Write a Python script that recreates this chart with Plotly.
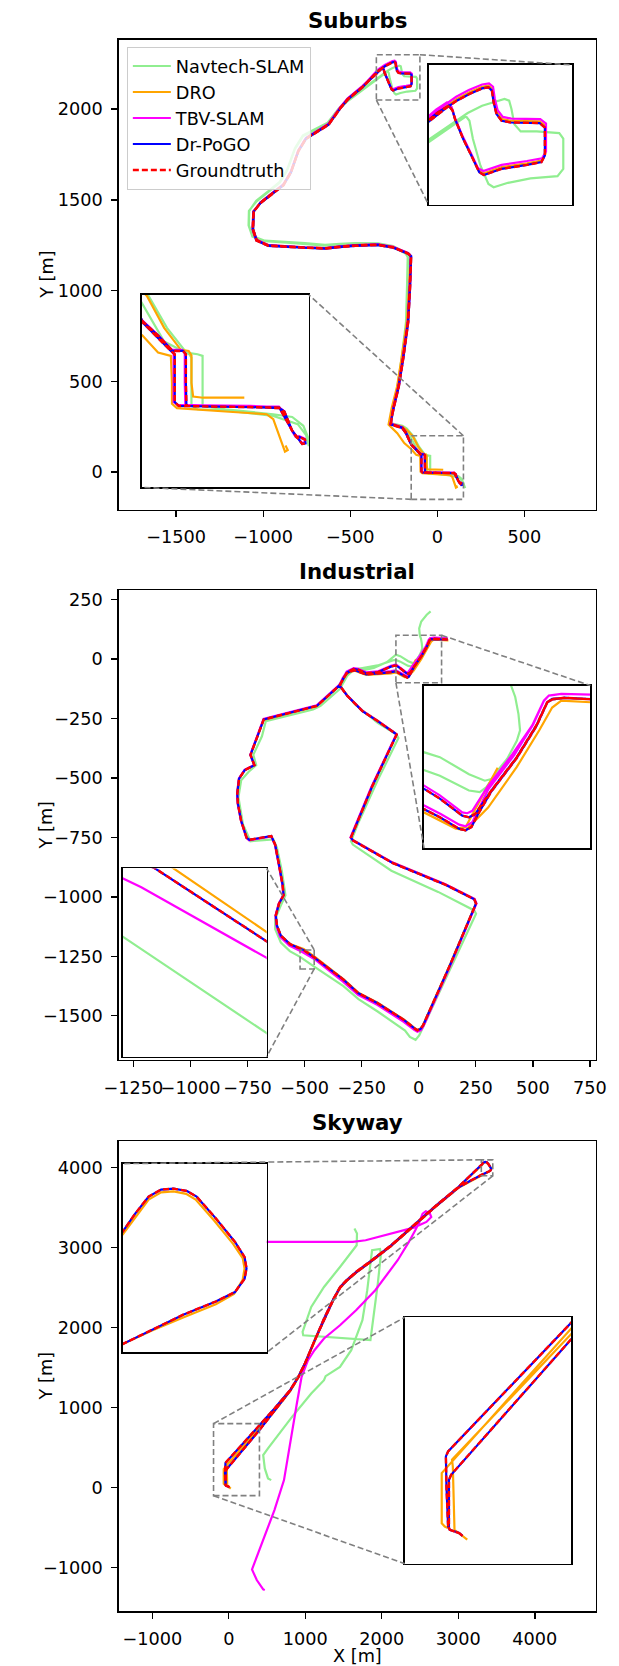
import plotly.graph_objects as go

W, H = 619, 1666

# ------------------------------------------------------------------ data
# Suburbs (x, y in metres)
SUB_GT = [(132,-58),(128,-59),(120,-47),(111,-26),(106,-12),(97,-6),(45,-4),(-41,-3),(-70,-2),(-71,40),(-71,92),(-76,98),(-95,98),(-120,125),(-149,152),(-180,219),(-200,245),(-266,265),(-262,300),(-250,354),(-221,472),(-195,629),(-167,826),(-156,1022),(-150,1190),(-167,1205),(-254,1239),(-341,1253),(-471,1249),(-560,1242),(-645,1233),(-760,1237),(-863,1243),(-971,1249),(-1037,1278),(-1058,1337),(-1054,1435),(-1015,1485),(-950,1534),(-884,1583),(-841,1652),(-798,1770),(-754,1839),(-689,1878),(-624,1917),(-558,2006),(-515,2055),(-428,2124),(-348,2200),(-318,2224),
          (-301,2236),(-279,2248),(-257,2258),(-246,2260),(-240,2254),(-237,2233),(-232,2212),(-223,2200),(-207,2197),(-157,2196),(-148,2188),(-148,2138),(-154,2126),(-179,2121),(-223,2114),(-254,2103),(-262,2108),(-273,2132),(-290,2168),(-304,2203),(-308,2218),(-315,2227),
          (-334,2215),(-348,2203),(-430,2120),(-515,2052),(-558,2003),(-624,1914),(-689,1875),(-754,1836),(-798,1768),(-841,1650),(-884,1580),(-950,1531),(-1015,1482),(-1056,1435),(-1060,1337),(-1039,1276),(-971,1247),(-863,1241),(-760,1235),(-645,1231),(-560,1240),(-471,1247),(-341,1251),(-254,1237),(-167,1203),(-152,1188),(-158,1022),(-169,826),(-197,629),(-223,472),(-252,354),(-264,300),(-268,263),(-202,243),(-182,217),(-149,150),(-120,120),(-98,98),(-91,92),(-91,5),(-84,-2),(0,-4),(97,-5),(120,-47),(131,-63),(138,-71),(144,-70),(143,-63),(132,-58)]
SUB_POGO = SUB_GT  # Dr-PoGO coincides with groundtruth at this scale
SUB_DRO = [(34,13),(-20,13),(-40,13),(-58,15),(-61,40),(-61,90),(-66,98),(-80,100),(-110,140),(-141,198),(-175,232),(-200,250),(-272,268),(-268,300),(-258,354),(-229,472),(-203,629),(-172,826),(-160,1022),(-153,1190),(-168,1207),(-254,1241),(-341,1255),(-471,1251),(-560,1244),(-645,1235),(-760,1239),(-863,1245),(-971,1251),(-1037,1280),(-1058,1339),(-1054,1437),(-1015,1487),(-950,1536),(-884,1585),(-841,1654),(-798,1772),(-754,1841),(-689,1880),(-624,1919),(-558,2008),(-515,2057),(-428,2126),(-348,2202),(-318,2227),
           (-301,2239),(-279,2251),(-257,2261),(-246,2263),(-239,2257),(-236,2236),(-231,2215),(-222,2203),(-207,2200),(-157,2199),(-147,2191),(-147,2141),(-154,2129),(-179,2124),(-223,2117),(-254,2106),(-263,2111),(-274,2135),(-291,2171),(-305,2206),(-309,2221),(-316,2230),
           (-335,2218),(-349,2206),(-431,2122),(-516,2054),(-559,2005),(-625,1916),(-690,1877),(-755,1838),(-799,1770),(-842,1652),(-885,1582),(-951,1533),(-1016,1484),(-1057,1437),(-1061,1339),(-1040,1278),(-971,1249),(-863,1243),(-760,1237),(-645,1233),(-560,1242),(-471,1249),(-341,1253),(-254,1239),(-168,1205),(-154,1190),(-162,1022),(-175,826),(-205,629),(-231,472),(-262,354),(-272,300),(-280,262),(-230,215),(-190,160),(-149,126),(-121,95),(-98,89),(-96,40),(-96,2),(-87,-6),(0,-12),(74,-17),(86,-26),(97,-59),(103,-77),(107,-85),(112,-82),(108,-74)]
SUB_TBV = [(130,-57),(126,-58),(119,-46),(110,-25),(105,-11),(96,-4),(45,-2),(-41,-1),(-72,0),(-73,40),(-73,94),(-78,100),(-96,100),(-121,127),(-150,154),(-181,221),(-201,247),(-267,267),(-263,300),(-251,354),(-222,472),(-196,629),(-168,826),(-157,1022),(-151,1191),(-168,1207),(-254,1241),(-341,1255),(-471,1251),(-560,1244),(-645,1235),(-760,1239),(-863,1245),(-971,1251),(-1038,1280),(-1059,1337),(-1055,1435),(-1016,1486),(-951,1536),(-885,1585),(-842,1654),(-799,1772),(-755,1841),(-690,1880),(-625,1920),(-559,2009),(-516,2058),(-429,2128),(-350,2205),(-320,2230),
           (-302,2243),(-280,2255),(-257,2265),(-245,2267),(-238,2261),(-235,2240),(-230,2219),(-221,2207),(-206,2204),(-156,2203),(-146,2195),(-146,2145),(-153,2133),(-179,2128),(-223,2121),(-255,2110),(-264,2115),(-275,2139),(-292,2175),(-306,2210),(-310,2225),(-318,2233),
           (-337,2220),(-350,2208),(-431,2124),(-516,2056),(-559,2007),(-625,1917),(-690,1878),(-755,1839),(-799,1770),(-842,1652),(-885,1582),(-951,1533),(-1016,1484),(-1057,1435),(-1061,1337),(-1040,1278),(-971,1249),(-863,1243),(-760,1237),(-645,1233),(-560,1242),(-471,1249),(-341,1253),(-254,1239),(-168,1205),(-153,1190),(-159,1022),(-170,826),(-198,629),(-224,472),(-253,354),(-265,300),(-269,265),(-203,245),(-183,219),(-150,152),(-121,122),(-100,100),(-93,94),(-93,5),(-85,0),(0,-2),(96,-3),(119,-45),(130,-61),(137,-69),(143,-68),(142,-61),(131,-56)]
SUB_NAV = [(160,-88),(150,-62),(140,-38),(120,-22),(86,-17),(0,-8),(-41,-2),(-41,89),(-50,92),(-70,95),(-105,140),(-138,198),(-175,240),(-200,255),(-272,270),(-266,300),(-255,354),(-228,472),(-205,629),(-180,826),(-174,1022),(-170,1185),(-185,1210),(-254,1245),(-341,1260),(-471,1262),(-560,1258),(-645,1252),(-760,1262),(-863,1268),(-990,1275),(-1060,1300),(-1082,1360),(-1080,1440),(-1040,1495),(-970,1548),(-905,1600),(-862,1668),(-818,1785),(-772,1855),(-700,1890),(-630,1925),(-565,2005),(-520,2045),(-430,2110),(-348,2168),(-323,2185),(-290,2209),
           (-282,2214),(-257,2227),(-218,2239),(-210,2236),(-206,2221),(-201,2194),(-190,2181),(-162,2181),(-123,2178),(-116,2168),(-116,2114),(-126,2101),(-173,2097),(-212,2089),(-237,2081),(-246,2087),(-260,2120),(-273,2168),(-279,2200),(-285,2208),
           (-323,2182),(-348,2165),(-430,2105),(-520,2040),(-565,2000),(-630,1920),(-700,1885),(-772,1850),(-818,1780),(-862,1663),(-905,1595),(-970,1543),(-1040,1490),(-1082,1440),(-1084,1360),(-1062,1298),(-990,1272),(-863,1265),(-760,1258),(-645,1248),(-560,1254),(-471,1258),(-341,1256),(-254,1241),(-183,1205),(-168,1183),(-172,1022),(-178,826),(-203,629),(-226,472),(-253,354),(-264,300),(-270,266),(-205,248),(-175,225),(-150,185),(-110,115),(-65,92),(-61,86),(-61,-2),(-50,-8),(0,-10),(86,-20),(130,-35),(145,-55),(150,-75)]

# Industrial
IND_GT = [(127,82),(100,83.6),(69,84.8),(54,83.6),(48,79.5),(35,51),(11.5,12),(-19,-29),(-38.5,-58),(-46,-62),(-54,-60),(-81,-39),(-100,-27),(-122,-32),(-150,-45),(-180,-56),(-230,-60),(-265,-45),(-285,-42),(-300,-48),(-315,-57),(-346,-110),(-446,-197),(-679,-254),(-695,-297),(-737,-403),(-720,-446),(-762,-467),(-787,-503),(-795,-567),(-792,-609),(-778,-680),(-754,-751),(-742,-760),(-646,-744),(-629,-780),(-612,-865),(-596,-950),(-592,-993),(-612,-1028),(-626,-1078),(-621,-1121),(-604,-1163),(-563,-1199),(-506,-1223),(-458,-1254),(-330,-1348),(-264,-1405),(-180,-1447),(-64,-1518),(-20,-1552),(-6,-1561),(8,-1555),(19,-1540),(135,-1291),(251,-1028),(243,-1010),(119,-950),(-114,-858),(-288,-763),(-297,-751),(-205,-538),(-97,-318),(-106,-311),(-180,-261),(-247,-219),(-313,-155),(-346,-112),(-330,-80),(-315,-60),(-300,-52),(-280,-47),(-230,-65),(-180,-62),(-150,-58),(-122,-55),(-100,-52),(-81,-62),(-58,-76),(-50,-78),(-43,-74),(-35,-58),(-19,-30),(11.5,11),(35,50),(48,79),(54,83),(69,85),(100,84),(127,82)]
IND_POGO = IND_GT
IND_DRO = [(-11.5,-1),(-33,-41),(-50,-74),(-62,-76),(-81,-66),(-100,-56),(-122,-60),(-150,-62),(-180,-64),(-230,-67),(-280,-49),(-300,-54),(-315,-62),(-348,-113),(-447,-199),(-680,-256),(-696,-298),(-738,-404),(-721,-447),(-763,-468),(-788,-504),(-796,-567),(-793,-609),(-779,-680),(-755,-752),(-743,-761),(-646,-746),(-630,-781),(-613,-865),(-597,-950),(-593,-993),(-613,-1028),(-627,-1078),(-622,-1121),(-605,-1163),(-564,-1198),(-504,-1219),(-458,-1250),(-330,-1346),(-264,-1403),(-180,-1445),(-64,-1516),(-20,-1550),(-6,-1559),(8,-1553),(19,-1538),(135,-1289),(251,-1026),(243,-1008),(119,-948),(-114,-856),(-288,-761),(-297,-749),(-205,-536),(-97,-316),(-106,-309),(-180,-259),(-247,-217),(-313,-153),(-346,-110),(-330,-80),(-315,-58),(-300,-50),(-280,-45),(-230,-63),(-180,-60),(-150,-57),(-122,-56),(-100,-56),(-81,-66),(-61,-76),(-50,-78),(-35,-62),(-23,-50),(11.5,0),(38.5,45),(54,73),(65,81.6),(100,79.5),(130,78)]
IND_TBV = [(127,88),(100,88.9),(65,89.8),(50,87.7),(44,81.6),(30,51),(5,14),(-24,-25),(-42,-54),(-48,-57),(-54,-56),(-81,-35),(-100,-23),(-122,-28),(-150,-41),(-180,-52),(-230,-56),(-265,-41),(-285,-38),(-300,-44),(-316,-53),(-348,-108),(-447,-195),(-680,-252),(-696,-296),(-738,-402),(-721,-445),(-763,-466),(-788,-502),(-796,-567),(-793,-609),(-779,-680),(-755,-752),(-743,-762),(-646,-746),(-630,-781),(-613,-866),(-597,-951),(-594,-994),(-614,-1030),(-628,-1080),(-623,-1124),(-607,-1168),(-567,-1205),(-512,-1231),(-458,-1261),(-333,-1355),(-266,-1412),(-182,-1454),(-66,-1525),(-20,-1559),(-6,-1567),(10,-1560),(21,-1543),(137,-1292),(253,-1028),(245,-1009),(119,-948),(-114,-856),(-290,-761),(-299,-750),(-207,-537),(-98,-316),(-107,-309),(-181,-259),(-248,-217),(-314,-153),(-348,-110),(-332,-78),(-316,-56),(-300,-48),(-280,-43),(-230,-61),(-180,-58),(-150,-54),(-122,-51),(-100,-47.5),(-80,-58),(-57.7,-71),(-50,-73),(-42,-68),(-36,-55),(-23,-28),(8,14),(31,52),(44,81),(50,87.7),(65,89.8),(100,88.9),(127,88)]
IND_NAV = [(52,200),(35,186),(11,158),(2,129),(4.6,100),(9.6,86),(13.5,65),(15.4,45),(11.5,32),(0,10),(-19,-15),(-27,-17),(-46,-9),(-81,12),(-100,18),(-139,-13),(-197,-38),(-247,-48),(-288,-48),(-313,-70),(-346,-126),(-380,-155),(-430,-197),(-463,-212),(-670,-261),(-687,-325),(-725,-403),(-712,-446),(-745,-474),(-778,-510),(-790,-581),(-770,-695),(-737,-766),(-637,-758),(-621,-794),(-600,-890),(-592,-950),(-584,-993),(-604,-1035),(-629,-1092),(-629,-1135),(-604,-1192),(-565,-1228),(-520,-1252),(-458,-1293),(-330,-1375),(-264,-1430),(-180,-1482),(-60,-1562),(-39,-1589),(-14,-1601),(2,-1582),(251,-1071),(243,-1057),(85,-979),(-120,-890),(-289,-780),(-297,-766),(-265,-690),(-180,-510),(-89,-332),(-97,-318),(-180,-268),(-280,-190),(-330,-133),(-346,-105),(-313,-62),(-288,-44),(-247,-38),(-180,-27),(-114,-6),(-100,-4),(-81,-11),(-46,-29),(-33,-31),(-25,-25),(-10,-2.5),(0,10)]

# Skyway
SKY_GT = [(8,2),(-4,12),(-38,24),(-44,36),(-50,182),(-52,292),(-44,310),(400,780),(600,992),(805,1225),(910,1390),(995,1555),(1120,1845),(1245,2115),(1370,2365),(1455,2510),(1540,2595),(1665,2700),(1870,2845),(2120,3030),(2415,3280),(2710,3530),(3000,3760),(3300,4028),(3313,4047),(3327,4065),(3340,4072.5),(3353,4073.5),(3367,4071),(3377,4065),(3397,4042),(3417,4017),(3427,4001),(3429,3989),(3427,3978),(3417,3964),(3397,3954),(3363,3940),(3330,3925),(3300,3911),(3150,3835),(3000,3752),(2710,3522),(2415,3272),(2120,3022),(1870,2837),(1665,2692),(1540,2588),(1455,2502),(1370,2357),(1245,2108),(1120,1838),(995,1548),(910,1383),(805,1217),(600,965),(400,720),(-33,225),(-41,206),(-41,30),(-38,24),(-4,12),(8,2)]
SKY_POGO = SKY_GT
SKY_DRO = [(25,-12),(-21,24),(-27,255),(-30,280),(400,739),(600,960),(805,1213),(910,1381),(995,1546),(1120,1836),(1245,2106),(1370,2355),(1455,2500),(1540,2586),(1665,2690),(1870,2835),(2120,3020),(2415,3270),(2710,3520),(3000,3750),(3300,3909),(3330,3923),(3363,3937),(3397,3951),(3416,3962),(3425,3977),(3427,3989),(3425,4000),(3415,4015),(3395,4040),(3376,4062),(3366,4068),(3353,4070.5),(3340,4069.5),(3327,4062),(3314,4044),(3300,4025),(3000,3757),(2710,3527),(2415,3277),(2120,3027),(1870,2842),(1665,2697),(1540,2592),(1455,2507),(1370,2362),(1245,2112),(1120,1842),(995,1552),(910,1387),(805,1221),(600,985),(400,760),(-55,245),(-67,231),(-67,48),(-56,36),(-45,30)]
SKY_TBV = [(480,3075),(951,3075),(1621,3073),(1788,3094),(1997,3144),(2207,3198),(2416,3252),(2583,3323),(2646,3385),(2625,3435),(2575,3456),(2533,3427),(2491,3323),(2437,3219),(2353,3073),(2207,2844),(1914,2469),(1663,2219),(1453,2031),(1244,1865),(1119,1719),(1035,1594),(951,1385),(889,1052),(805,552),(721,94),(596,-281),(449,-656),(303,-1023),(365,-1156),(449,-1273),(470,-1281)]
SKY_NAV = [(554,94),(512,115),(470,240),(449,406),(512,490),(658,677),(826,885),(1077,1177),(1244,1344),(1265,1394),(1453,1510),(1600,1719),(1746,2094),(1809,2469),(1872,2969),(1976,2985),(1989,2927),(1947,2552),(1893,2135),(1851,1844),(972,1906),(964,1948),(1077,2260),(1244,2510),(1453,2760),(1671,3031),(1675,3177),(1642,3240)]

SERIES_NAMES = ["Navtech-SLAM", "DRO", "TBV-SLAM", "Dr-PoGO", "Groundtruth"]
TITLES = ["Suburbs", "Industrial", "Skyway"]

# tick values per panel
SUB_XT = [-1500, -1000, -500, 0, 500]
SUB_YT = [0, 500, 1000, 1500, 2000]
IND_XT = [-1250, -1000, -750, -500, -250, 0, 250, 500, 750]
IND_YT = [-1500, -1250, -1000, -750, -500, -250, 0, 250]
SKY_XT = [-1000, 0, 1000, 2000, 3000, 4000]
SKY_YT = [-1000, 0, 1000, 2000, 3000, 4000]

# ------------------------------------------------------------------ styles / layout
STYLES = [
    dict(color="#90EE90", width=2.2, dash="solid"),
    dict(color="#FFA500", width=2.2, dash="solid"),
    dict(color="#FF00FF", width=2.2, dash="solid"),
    dict(color="#0000FF", width=2.2, dash="solid"),
    dict(color="#FF0000", width=2.4, dash="6px,3px"),
]
FONT = "DejaVu Sans"
FS = 17.7

PANELS = [
    dict(series=[SUB_NAV, SUB_DRO, SUB_TBV, SUB_POGO, SUB_GT], frame=(109, 606, 38.6, 508.9),
         xr=(-1830.4, 908.6), yr=(-206.5, 2383.3), xt=SUB_XT, yt=SUB_YT,
         insets=[dict(frame=(432, 582, 64, 203.7), xr=(-350, -100), yr=(2050, 2300), corners=("ur", "ll")),
                 dict(frame=(133.3, 307.3, 294, 486.7), xr=(-150, 150), yr=(-150, 200), corners=("ur", "ll"))]),
    dict(series=[IND_NAV, IND_DRO, IND_TBV, IND_POGO, IND_GT], frame=(109, 606, 589.7, 1059.7),
         xr=(-1315, 774.5), yr=(-1686, 288.7), xt=IND_XT, yt=IND_YT,
         insets=[dict(frame=(427.3, 600.7, 685, 847.7), xr=(-100, 100), yr=(-100, 100), corners=("ur", "ll")),
                 dict(frame=(113.3, 263.3, 868, 1056.3), xr=(-520, -458), yr=(-1303, -1223), corners=("ur", "lr"))]),
    dict(series=[SKY_NAV, SKY_DRO, SKY_TBV, SKY_POGO, SKY_GT], frame=(109, 606, 1140.8, 1611.2),
         xr=(-1441, 4793), yr=(-1546, 4334), xt=SKY_XT, yt=SKY_YT,
         insets=[dict(frame=(113.3, 263.3, 1163.3, 1352.3), xr=(3300, 3450), yr=(3900, 4100), corners=("ul", "lr")),
                 dict(frame=(407.3, 580.7, 1317, 1563.7), xr=(-200, 400), yr=(-100, 800), corners=("ul", "ll"))]),
]


def dom(frame):
    l, r, t, b = frame
    return [l / W, r / W], [1 - b / H, 1 - t / H]


def to_px(x, y, frame, xr, yr):
    l, r, t, b = frame
    return (l + (x - xr[0]) / (xr[1] - xr[0]) * (r - l),
            b - (y - yr[0]) / (yr[1] - yr[0]) * (b - t))


def corner_data(xr, yr, c):
    return (xr[1] if c[1] == "r" else xr[0], yr[1] if c[0] == "u" else yr[0])


def corner_px(frame, c):
    l, r, t, b = frame
    return (r if c[1] == "r" else l, t if c[0] == "u" else b)


fig = go.Figure()
layout = dict(width=W, height=H, margin=dict(l=0, r=0, t=0, b=0),
              paper_bgcolor="white", plot_bgcolor="white", hovermode=False,
              font=dict(family=FONT, size=FS, color="black"))
shapes, annotations = [], []


def add_traces(series, ax, show_legend):
    xa = "x" if ax == 1 else f"x{ax}"
    ya = "y" if ax == 1 else f"y{ax}"
    for name, pts, st in zip(SERIES_NAMES, series, STYLES):
        fig.add_trace(go.Scatter(
            x=[p[0] for p in pts], y=[p[1] for p in pts], mode="lines", name=name,
            line=dict(color=st["color"], width=st["width"], dash=st["dash"]),
            xaxis=xa, yaxis=ya, showlegend=show_legend, legendgroup=name, hoverinfo="skip"))


for pi, P in enumerate(PANELS):
    add_traces(P["series"], pi + 1, pi == 0)
    xd, yd = dom(P["frame"])
    k = "" if pi == 0 else str(pi + 1)
    common = dict(ticks="outside", ticklen=6, tickwidth=1.3, tickcolor="black",
                  showline=True, linecolor="black", linewidth=1.3, mirror=True,
                  showgrid=False, zeroline=False, ticklabelstandoff=5,
                  tickfont=dict(family=FONT, size=FS, color="black"))
    layout["xaxis" + k] = dict(domain=xd, range=list(P["xr"]), anchor="y" + k, tickvals=P["xt"],
                               tickangle=0, **common)
    layout["yaxis" + k] = dict(domain=yd, range=list(P["yr"]), anchor="x" + k, tickvals=P["yt"], **common)
    l, r, t, b = P["frame"]
    annotations.append(dict(text="<b>%s</b>" % TITLES[pi], x=(l + r) / 2 / W, y=1 - (t - 19) / H,
                            xref="paper", yref="paper", showarrow=False, xanchor="center", yanchor="middle",
                            font=dict(family=FONT, size=21.3, color="black")))
    annotations.append(dict(text="Y [m]", x=33.6 / W, y=1 - (t + b) / 2 / H, xref="paper", yref="paper",
                            showarrow=False, textangle=-90, xanchor="center", yanchor="middle",
                            font=dict(family=FONT, size=FS, color="black")))

for pi, P in enumerate(PANELS):
    k = "" if pi == 0 else str(pi + 1)
    for ii, ins in enumerate(P["insets"]):
        n = 4 + 2 * pi + ii
        add_traces(P["series"], n, False)
        xd, yd = dom(ins["frame"])
        inset_ax = dict(showticklabels=False, ticks="", showline=True, linecolor="black", linewidth=1.6,
                        mirror=True, showgrid=False, zeroline=False)
        layout[f"xaxis{n}"] = dict(domain=xd, range=list(ins["xr"]), anchor=f"y{n}", **inset_ax)
        layout[f"yaxis{n}"] = dict(domain=yd, range=list(ins["yr"]), anchor=f"x{n}", **inset_ax)
        # zoom rectangle on the main axes
        shapes.append(dict(type="rect", xref="x" + k, yref="y" + k, x0=ins["xr"][0], x1=ins["xr"][1],
                           y0=ins["yr"][0], y1=ins["yr"][1], layer="above",
                           line=dict(color="#808080", width=1.6, dash="6px,3px")))
        for c in ins["corners"]:
            dx, dy = corner_data(ins["xr"], ins["yr"], c)
            px0, py0 = to_px(dx, dy, P["frame"], P["xr"], P["yr"])
            px1, py1 = corner_px(ins["frame"], c)
            shapes.append(dict(type="line", xref="paper", yref="paper", x0=px0 / W, y0=1 - py0 / H,
                               x1=px1 / W, y1=1 - py1 / H, layer="above",
                               line=dict(color="#808080", width=1.6, dash="6px,3px")))

annotations.append(dict(text="X [m]", x=(109 + 606) / 2 / W, y=1 - 1655.5 / H, xref="paper", yref="paper",
                        showarrow=False, xanchor="center", yanchor="middle",
                        font=dict(family=FONT, size=FS, color="black")))

layout["shapes"] = shapes
layout["annotations"] = annotations
layout["legend"] = dict(x=117.6 / W, y=1 - 46 / H, xanchor="left", yanchor="top",
                        bgcolor="rgba(255,255,255,0.8)", bordercolor="#cccccc", borderwidth=1,
                        itemwidth=38, font=dict(family=FONT, size=FS, color="black"), tracegroupgap=0)
layout["showlegend"] = True
fig.update_layout(**layout)
fig.write_html("out.html", config={"displayModeBar": False, "staticPlot": True},
               post_script="document.body.style.margin='0px';")
